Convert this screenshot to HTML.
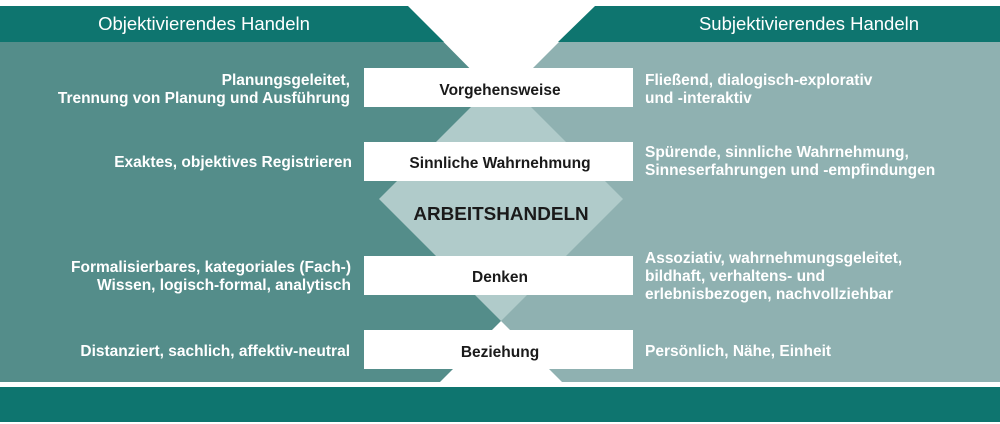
<!DOCTYPE html>
<html><head><meta charset="utf-8"><style>
html,body{margin:0;padding:0;background:#fff;width:1000px;height:424px;overflow:hidden}
svg{display:block}
text{font-family:"Liberation Sans",sans-serif}
.w{fill:#fff;font-weight:bold;font-size:15.5px}
.b{fill:#1a1a1a;font-weight:bold;font-size:15.5px}
.h{fill:#fff;font-size:18.5px}
</style></head><body>
<svg width="1000" height="424" viewBox="0 0 1000 424">
<rect x="0" y="42" width="501" height="340" fill="#548d8a"/>
<rect x="501" y="42" width="499" height="340" fill="#8fb1b1"/>
<polygon points="501,77 623,199 501,321 379,199" fill="#b0cbca"/>
<polygon points="408,6 595,6 501,100" fill="#fff"/>
<polygon points="501,321 566,386 436,386" fill="#fff"/>
<polygon points="0,6 408,6 444,42 0,42" fill="#0e756f"/>
<polygon points="595,6 1000,6 1000,42 558,42" fill="#0e756f"/>
<rect x="0" y="387" width="1000" height="35" fill="#0e756f"/>
<text class="h" x="204" y="30" text-anchor="middle">Objektivierendes Handeln</text>
<text class="h" x="809" y="30" text-anchor="middle">Subjektivierendes Handeln</text>
<rect x="364" y="68" width="269" height="39" fill="#fff"/>
<rect x="364" y="142" width="269" height="39" fill="#fff"/>
<rect x="364" y="256" width="269" height="39" fill="#fff"/>
<rect x="364" y="330" width="269" height="39" fill="#fff"/>
<text class="b" x="500" y="95" text-anchor="middle">Vorgehensweise</text>
<text class="b" x="500" y="168" text-anchor="middle">Sinnliche Wahrnehmung</text>
<text x="501" y="220" text-anchor="middle" style="font-weight:bold;font-size:18.9px;fill:#1a1a1a">ARBEITSHANDELN</text>
<text class="b" x="500" y="282" text-anchor="middle">Denken</text>
<text class="b" x="500" y="357" text-anchor="middle">Beziehung</text>
<g text-anchor="end">
<text class="w" x="350" y="85">Planungsgeleitet,</text>
<text class="w" x="350" y="103">Trennung von Planung und Ausführung</text>
<text class="w" x="352" y="167">Exaktes, objektives Registrieren</text>
<text class="w" x="351" y="272">Formalisierbares, kategoriales (Fach-)</text>
<text class="w" x="351" y="290">Wissen, logisch-formal, analytisch</text>
<text class="w" x="350" y="356">Distanziert, sachlich, affektiv-neutral</text>
</g>
<text class="w" x="645" y="85">Fließend, dialogisch-explorativ</text>
<text class="w" x="645" y="103">und -interaktiv</text>
<text class="w" x="645" y="157">Spürende, sinnliche Wahrnehmung,</text>
<text class="w" x="645" y="175">Sinneserfahrungen und -empfindungen</text>
<text class="w" x="645" y="263">Assoziativ, wahrnehmungsgeleitet,</text>
<text class="w" x="645" y="281">bildhaft, verhaltens- und</text>
<text class="w" x="645" y="299">erlebnisbezogen, nachvollziehbar</text>
<text class="w" x="645" y="356">Persönlich, Nähe, Einheit</text>
</svg>
</body></html>
